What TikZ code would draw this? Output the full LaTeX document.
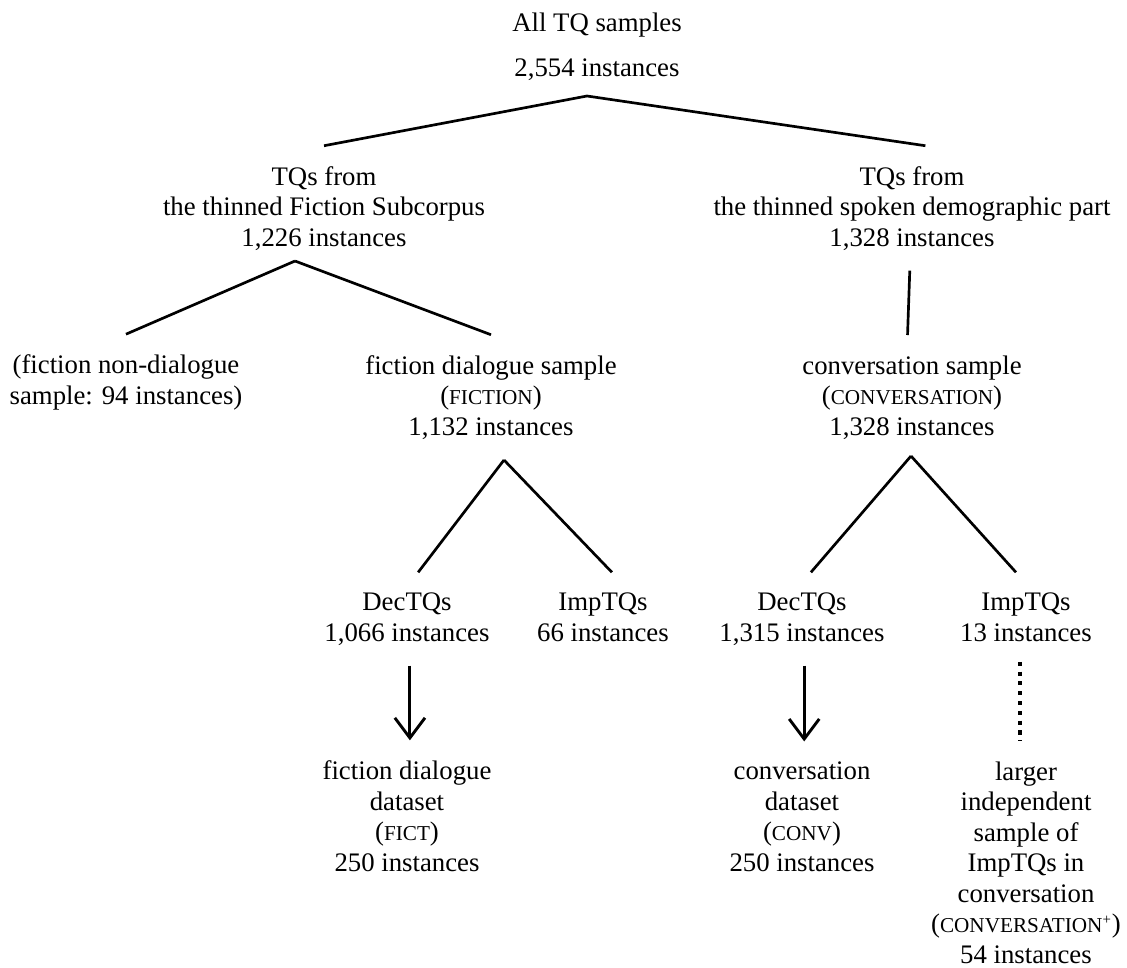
\documentclass[tikz,border=0pt]{standalone}
\usepackage{fontspec}
\setmainfont{Liberation Serif}
\usetikzlibrary{positioning,calc,arrows.meta}

\newcommand\smcap[1]{{\fontsize{9.5}{13.65}\selectfont #1}}

\begin{document}
\begin{tikzpicture}[
  x = 0.4483pt,
  y = -0.4483pt,
  txt/.style = {
    align = center,
    anchor = base,
    inner xsep = 0pt,
    inner ysep = 9pt,
    font = \fontsize{12}{13.65}\selectfont,
  },
  branch/.style = {line width=1.2pt},
  leadsto/.style = {line width=1.3pt, -{Straight Barb[length=9pt,width=13.5pt]}},
  pending/.style = {line width=1.8pt, dash pattern=on 1.8pt off 2.6pt},
]
  \useasboundingbox (0,0) rectangle (1127,967);

  % root
  \node[txt] (all) at (597,31) {All TQ samples};
  \node[txt] (allnum) at (597,76) {2,554 instances};
  \coordinate (rootfork) at (587,96);

  % first split (base = last line)
  \node[txt] (fsub) at (324,246) {TQs from\\the thinned Fiction Subcorpus\\1,226 instances};
  \node[txt] (spok) at (912,246) {TQs from\\the thinned spoken demographic part\\1,328 instances};
  \path[branch] (rootfork) edge (fsub.north);
  \path[branch] (rootfork) edge ([xshift=6pt]spok.north);

  % fiction side
  \coordinate (fsubfork) at (295,261);
  \node[txt] (nondlg) at (126,404) {(fiction non-dialogue\\sample: 94 instances)};
  \node[txt] (fict) at (491,435) {fiction dialogue sample\\(\smcap{FICTION})\\1,132 instances};
  \path[branch] (fsubfork) edge (nondlg.north);
  \path[branch] (fsubfork) edge (fict.north);

  % conversation side
  \node[txt] (conv) at (912,435) {conversation sample\\(\smcap{CONVERSATION})\\1,328 instances};
  \path[branch] ([xshift=-1pt]spok.south) edge ([xshift=-2pt]conv.north);

  % DecTQs / ImpTQs
  \coordinate (fictfork) at (504,460);
  \node[txt] (fdec) at (407,641) {DecTQs\\1,066 instances};
  \node[txt] (fimp) at (603,641) {ImpTQs\\66 instances};
  \path[branch] (fictfork) edge ([xshift=5pt]fdec.north);
  \path[branch] (fictfork) edge ([xshift=4pt]fimp.north);

  \coordinate (convfork) at (911,456);
  \node[txt] (cdec) at (802,641) {DecTQs\\1,315 instances};
  \node[txt] (cimp) at (1026,641) {ImpTQs\\13 instances};
  \path[branch] (convfork) edge ([xshift=4pt]cdec.north);
  \path[branch] (convfork) edge ([xshift=-4.5pt]cimp.north);

  % datasets
  \node[txt] (fds) at (407,871) {fiction dialogue\\dataset\\(\smcap{FICT})\\250 instances};
  \node[txt] (cds) at (802,871) {conversation\\dataset\\(\smcap{CONV})\\250 instances};
  \node[txt] (big) at (1026,963) {larger\\independent\\sample of\\ImpTQs in\\conversation\\(\smcap{CONVERSATION\textsuperscript{+}})\\54 instances};
  \draw[leadsto] ([xshift=1.3pt]fdec.south) -- ([xshift=1.3pt]fds.north);
  \draw[leadsto] ([xshift=1pt]cdec.south) -- ([xshift=1pt]cds.north);
  \draw[pending] ([xshift=-2.7pt]cimp.south) -- ([xshift=-2.7pt]big.north);
\end{tikzpicture}
\end{document}
